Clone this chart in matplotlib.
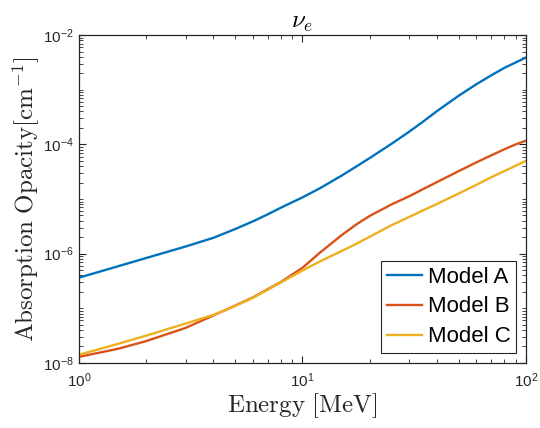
import numpy as np
import matplotlib
matplotlib.use("Agg")
import matplotlib.pyplot as plt
from matplotlib.ticker import LogLocator, NullFormatter, FixedLocator

# neutrino energy [MeV]
energy = [1, 1.5, 2, 3, 4, 5, 6, 7, 8, 10, 12, 15, 17.5, 20, 25, 30, 35, 40,
          50, 60, 70, 80, 90, 100]

# absorption opacity [cm^-1]
model_a = [3.63e-7, 5.89e-7, 8.32e-7, 1.35e-6, 1.95e-6, 2.82e-6, 3.89e-6,
           5.25e-6, 6.92e-6, 1.07e-5, 1.58e-5, 2.69e-5, 3.98e-5, 5.62e-5,
           1.02e-4, 1.70e-4, 2.69e-4, 4.07e-4, 7.76e-4, 1.26e-3, 1.84e-3,
           2.51e-3, 3.16e-3, 3.89e-3]
model_b = [1.29e-8, 1.82e-8, 2.51e-8, 4.37e-8, 7.41e-8, 1.12e-7, 1.58e-7,
           2.24e-7, 3.02e-7, 5.50e-7, 1.05e-6, 2.19e-6, 3.47e-6, 4.90e-6,
           7.94e-6, 1.12e-5, 1.55e-5, 2.04e-5, 3.24e-5, 4.68e-5, 6.31e-5,
           8.13e-5, 1.0e-4, 1.17e-4]
model_c = [1.41e-8, 2.24e-8, 3.16e-8, 5.25e-8, 7.59e-8, 1.10e-7, 1.55e-7,
           2.19e-7, 2.95e-7, 4.90e-7, 7.24e-7, 1.12e-6, 1.53e-6, 2.04e-6,
           3.31e-6, 4.68e-6, 6.31e-6, 8.13e-6, 1.26e-5, 1.82e-5, 2.51e-5,
           3.24e-5, 4.07e-5, 5.01e-5]

labels = ["Model A", "Model B", "Model C"]
colors = ["#0072BD", "#D95319", "#EDB120"]

plt.rcParams["font.family"] = ["Liberation Sans", "DejaVu Sans"]
plt.rcParams["mathtext.fontset"] = "cm"

fig = plt.figure(figsize=(5.4, 4.28), dpi=100)
ax = fig.add_axes([0.146, 0.152, 0.828, 0.766])

for ys, lab, c in zip([model_a, model_b, model_c], labels, colors):
    ax.loglog(energy, ys, color=c, lw=1.7, label=lab)

ax.set_xlim(1, 100)
ax.set_ylim(1e-8, 1e-2)

ax.yaxis.set_major_locator(FixedLocator([1e-8, 1e-6, 1e-4, 1e-2]))
ax.yaxis.set_minor_locator(LogLocator(base=10, subs=np.arange(1, 10), numticks=20))
ax.yaxis.set_minor_formatter(NullFormatter())
ax.xaxis.set_minor_locator(LogLocator(base=10, subs=np.arange(1, 10), numticks=20))
ax.xaxis.set_minor_formatter(NullFormatter())

ax.tick_params(which="both", direction="in", top=True, right=True,
               labelsize=11, colors="#262626", labelcolor="#262626")
ax.tick_params(which="major", length=5, width=0.8)
ax.tick_params(which="minor", length=2.8, width=0.6)
ax.tick_params(axis="x", pad=6)
for sp in ax.spines.values():
    sp.set_color("#262626")
    sp.set_linewidth(0.9)

ax.set_xlabel(r"$\mathrm{Energy\ [MeV]}$", fontsize=18, color="#262626", labelpad=1)
ax.set_ylabel(r"$\mathrm{Absorption\ Opacity[cm^{-1}]}$", fontsize=18,
              color="#262626", labelpad=1)
ax.set_title(r"$\nu_e$", fontsize=18, pad=5)

leg = ax.legend(loc="lower right", fontsize=16, fancybox=False, framealpha=1,
                edgecolor="#262626", borderaxespad=0.45, handlelength=1.6,
                handletextpad=0.25, borderpad=0.25, labelspacing=0.4)
leg.get_frame().set_linewidth(0.8)

fig.savefig("out.png", dpi=100)
